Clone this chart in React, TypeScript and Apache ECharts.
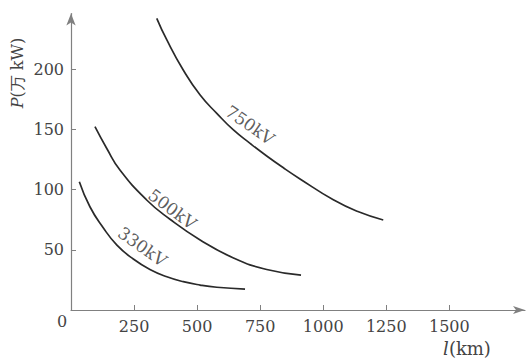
import React, { useEffect, useRef } from 'react';
import * as echarts from 'echarts';

const curve330: number[][] = [[33, 106.5], [75, 85.7], [127, 68.5], [182, 53.9], [247, 42.3], [313, 33.6], [380, 27.6], [445, 23.5], [512, 20.7], [578, 18.9], [690, 17.4]];
const curve500: number[][] = [[95, 152.1], [143, 133.6], [194, 116.2], [300, 91.3], [391, 75.5], [512, 58.1], [644, 43.2], [776, 33.6], [912, 29]];
const curve750: number[][] = [[340, 242.1], [380, 224.1], [445, 199.2], [512, 178.4], [578, 163.2], [644, 149.4], [710, 138.3], [776, 127.8], [842, 118], [908, 108.8], [1040, 91.5], [1140, 81.5], [1238, 74.7]];

const labelPoints: (number | string)[][] = [[283, 52.5, '330kV'], [402, 83.7, '500kV'], [710, 153.5, '750kV']];
const labelAngles = [-35, -37, -35];

const xTicks = [250, 500, 750, 1000, 1250, 1500];
const yTicks = [50, 100, 150, 200];

const FONT = 'DejaVu Serif';
const TEXT = '#444';
const AXIS = '#808080';
const LINE = '#2a2a2a';

export default function App() {
  const ref = useRef<HTMLDivElement>(null);
  useEffect(() => {
    document.body.style.margin = '0';
    const chart = echarts.init(ref.current!, undefined, { renderer: 'svg' });
    const lineSeries = (data: number[][]) => ({
      type: 'line',
      data,
      smooth: 0.5,
      showSymbol: false,
      symbol: 'none',
      silent: true,
      lineStyle: { color: LINE, width: 1.7 },
    });
    chart.setOption({
      animation: false,
      backgroundColor: '#fff',
      grid: { left: 71, right: 5, top: 13.6, bottom: 49 },
      xAxis: {
        type: 'value',
        min: 0,
        max: 1800,
        splitLine: { show: false },
        axisLine: { show: true, lineStyle: { color: AXIS, width: 1.2 }, symbol: ['none', 'arrow'], symbolSize: [6, 12] },
        axisTick: { show: true, inside: true, length: 5, customValues: xTicks, lineStyle: { color: AXIS } },
        axisLabel: { customValues: xTicks, formatter: (v: number) => String(v), margin: 8, fontFamily: FONT, fontSize: 16, color: TEXT },
      },
      yAxis: {
        type: 'value',
        min: 0,
        max: 246,
        splitLine: { show: false },
        axisLine: { show: true, lineStyle: { color: AXIS, width: 1.2 }, symbol: ['none', 'arrow'], symbolSize: [7, 12] },
        axisTick: { show: true, inside: true, length: 5, customValues: yTicks, lineStyle: { color: AXIS } },
        axisLabel: { customValues: yTicks, formatter: (v: number) => String(v), margin: 7, fontFamily: FONT, fontSize: 16, color: TEXT },
      },
      series: [
        lineSeries(curve330),
        lineSeries(curve500),
        lineSeries(curve750),
        {
          type: 'scatter',
          symbolSize: 0,
          silent: true,
          data: labelPoints.map((p, i) => ({
            value: [p[0], p[1]],
            label: {
              show: true,
              position: 'inside',
              formatter: String(p[2]),
              rotate: labelAngles[i],
              fontFamily: FONT,
              fontSize: 17,
              color: '#333',
            },
          })),
        },
      ],
      graphic: [
        {
          type: 'text',
          x: 62,
          y: 321,
          style: { text: '0', fontFamily: FONT, fontSize: 16, fill: TEXT, align: 'center', verticalAlign: 'middle' },
        },
        {
          type: 'text',
          x: 17,
          y: 73,
          rotation: Math.PI / 2,
          style: {
            text: '{i|P}(万 kW)',
            align: 'center',
            verticalAlign: 'middle',
            fontFamily: FONT,
            fontSize: 16,
            fill: TEXT,
            rich: { i: { fontStyle: 'italic', fontFamily: FONT, fontSize: 16, fill: TEXT } },
          },
        },
        {
          type: 'text',
          x: 467,
          y: 348,
          style: {
            text: '{i|l}(km)',
            align: 'center',
            verticalAlign: 'middle',
            fontFamily: FONT,
            fontSize: 18,
            fill: TEXT,
            rich: { i: { fontStyle: 'italic', fontFamily: FONT, fontSize: 18, fill: TEXT } },
          },
        },
      ],
    });
    return () => chart.dispose();
  }, []);
  return <div ref={ref} style={{ position: 'absolute', left: 0, top: 0, width: 530, height: 359 }} />;
}
